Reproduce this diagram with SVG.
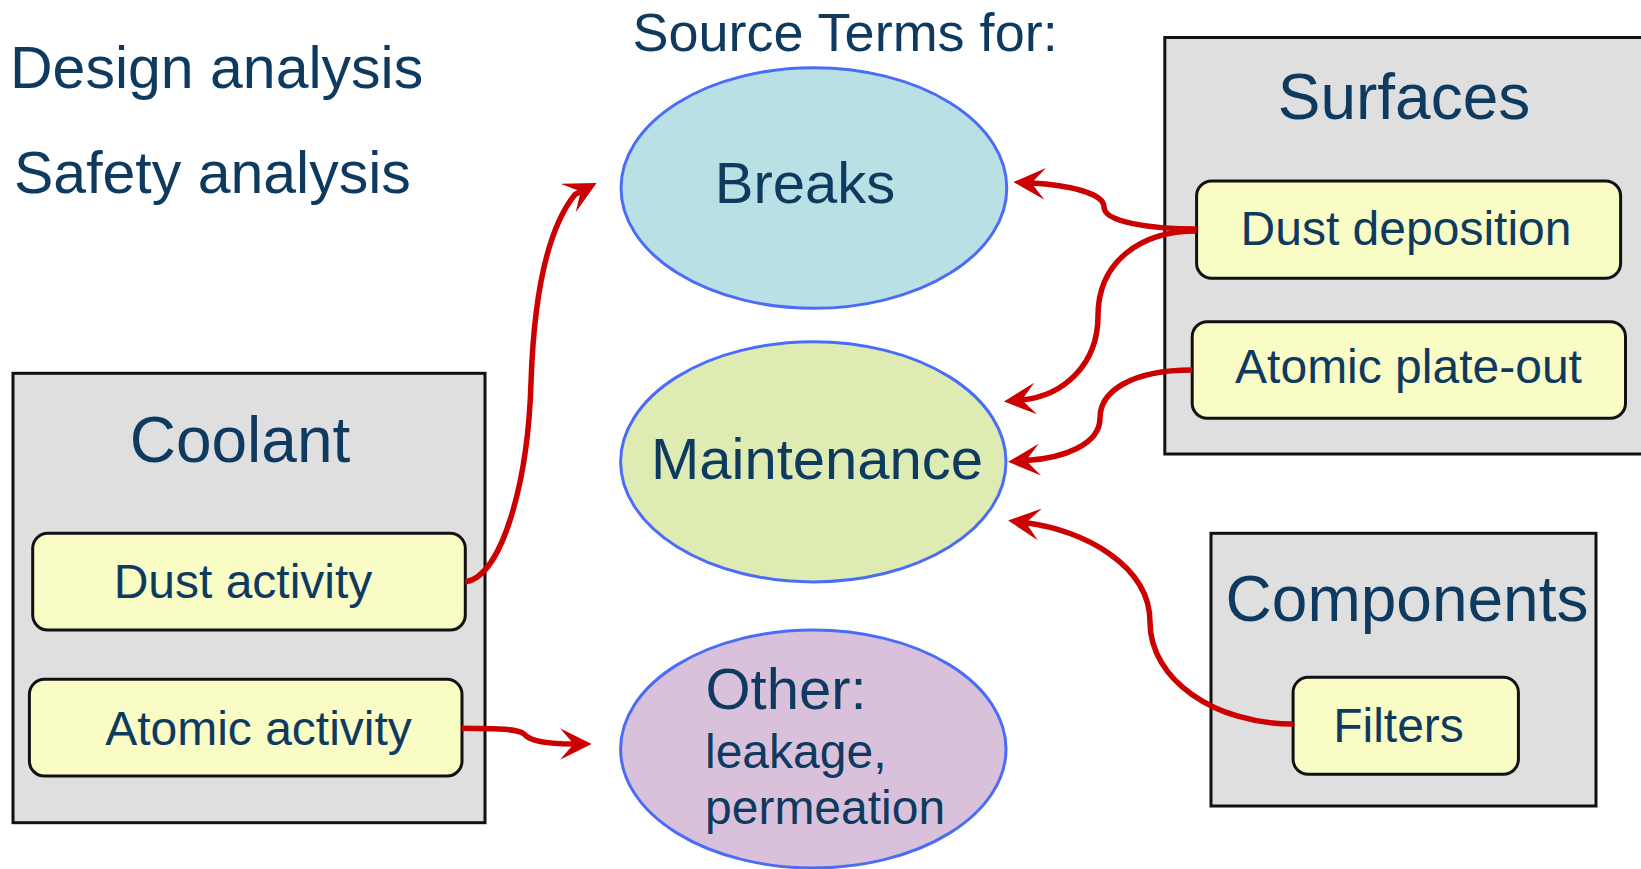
<svg xmlns="http://www.w3.org/2000/svg" width="1641" height="869" viewBox="0 0 1641 869">
  <style>
    text { font-family: "Liberation Sans", Arial, sans-serif; fill: #0f3a5f; }
    .title { font-size: 58px; }
    .head { font-size: 64px; text-anchor: middle; }
    .item { font-size: 48px; text-anchor: middle; }
    .mid { text-anchor: middle; }
    .group { fill: #dfdfdf; stroke: #111111; stroke-width: 3; }
    .box { fill: #fafcc5; stroke: #111111; stroke-width: 3; }
    .term { stroke: #4a6cf7; stroke-width: 3; }
    .link { fill: none; stroke: #cc0000; stroke-width: 5.5; stroke-linejoin: round; marker-end: url(#ah); }
  </style>
  <defs>
    <marker id="ah" viewBox="0 -16 32 32" refX="14" refY="0" markerWidth="32" markerHeight="32" markerUnits="userSpaceOnUse" orient="auto">
      <path d="M32,0 L0,-16 L14,0 L0,16 Z" fill="#cc0000"/>
    </marker>
  </defs>

  <rect width="1641" height="869" fill="#ffffff"/>

  <!-- headings -->
  <g id="headings">
    <text x="10" y="87.5" font-size="59">Design analysis</text>
    <text x="14" y="192.7" font-size="59">Safety analysis</text>
    <text x="632.5" y="50.7" font-size="54">Source Terms for:</text>
  </g>

  <!-- source term ellipses -->
  <g id="breaks">
    <ellipse class="term" cx="813.9" cy="188" rx="192.9" ry="120.3" fill="#b9e0e4"/>
    <text class="title mid" x="805" y="203.3">Breaks</text>
  </g>
  <g id="maintenance">
    <ellipse class="term" cx="813.3" cy="461.8" rx="192.7" ry="120.1" fill="#deebb3"/>
    <text class="title mid" x="817" y="479.3">Maintenance</text>
  </g>
  <g id="other">
    <ellipse class="term" cx="813.3" cy="749" rx="192.7" ry="119" fill="#d9c1dc"/>
    <text class="title" x="705.5" y="708.7">Other:</text>
    <text x="705" y="768.2" font-size="48">leakage,</text>
    <text x="705" y="824.2" font-size="48">permeation</text>
  </g>

  <!-- coolant group -->
  <g id="coolant">
    <rect class="group" x="13" y="373.3" width="472" height="449.4"/>
    <text class="head" x="240" y="461.7">Coolant</text>
  </g>
  <g id="dust-activity">
    <rect class="box" x="32.7" y="533.3" width="432.6" height="96.7" rx="15"/>
    <text class="item" x="243" y="598.3">Dust activity</text>
  </g>
  <g id="atomic-activity">
    <rect class="box" x="29.4" y="679.3" width="432.6" height="96.7" rx="15"/>
    <text class="item" x="258.5" y="745">Atomic activity</text>
  </g>

  <!-- surfaces group -->
  <g id="surfaces">
    <rect class="group" x="1164.8" y="37.5" width="490" height="416.5"/>
    <text class="head" x="1404" y="119">Surfaces</text>
  </g>
  <g id="dust-deposition">
    <rect class="box" x="1196.6" y="181" width="424" height="97.3" rx="15"/>
    <text class="item" x="1406" y="245">Dust deposition</text>
  </g>
  <g id="atomic-plate-out">
    <rect class="box" x="1192.2" y="321.7" width="433.3" height="96.6" rx="15"/>
    <text class="item" x="1408.5" y="383.3">Atomic plate-out</text>
  </g>

  <!-- components group -->
  <g id="components">
    <rect class="group" x="1211" y="533.3" width="385" height="272.7"/>
    <text class="head" x="1407" y="621">Components</text>
  </g>
  <g id="filters">
    <rect class="box" x="1293.1" y="677.3" width="225.3" height="97" rx="15"/>
    <text class="item" x="1398.5" y="741.7">Filters</text>
  </g>

  <!-- connectors -->
  <g id="connectors">
    <path class="link" d="M465.3,582 C503,576 528,480 531,383 C534,290 548,228 575,194.5 L580.7,191.5"/>
    <path class="link" d="M462,728.3 C500,728.5 518,729 524,734 C530,741 545,744 573.7,744"/>
    <path class="link" d="M1196.6,229 C1150,229 1104,222 1104,207 C1104,193 1068,185 1031.4,183"/>
    <path class="link" d="M1196.6,231 C1140,231 1098,262 1098,316 C1098,365 1063,396 1021.9,399.9"/>
    <path class="link" d="M1192.2,370 C1130,370 1100,392 1100,418 C1100,445 1063,458 1026,460.6"/>
    <path class="link" d="M1293.1,724 C1215,724 1150,680 1150,622 C1150,565 1083,530 1026,522.7"/>
  </g>
</svg>
